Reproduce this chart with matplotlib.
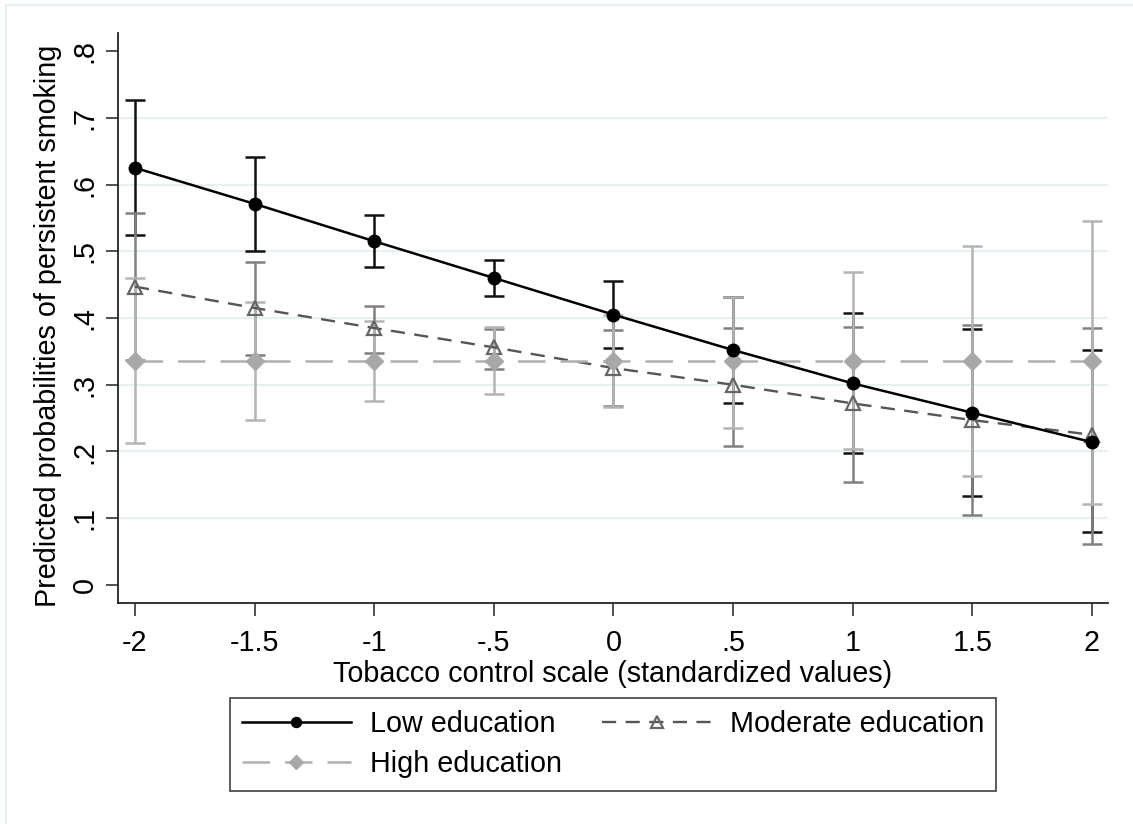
import matplotlib.pyplot as plt
from matplotlib.patches import Rectangle

# ---- data ----
x_vals = [-2, -1.5, -1, -0.5, 0, 0.5, 1, 1.5, 2]
x_labels = ["-2", "-1.5", "-1", "-.5", "0", ".5", "1", "1.5", "2"]
y_ticks = [0, 0.1, 0.2, 0.3, 0.4, 0.5, 0.6, 0.7, 0.8]
y_labels = ["0", ".1", ".2", ".3", ".4", ".5", ".6", ".7", ".8"]

low = [0.625, 0.571, 0.515, 0.460, 0.405, 0.352, 0.302, 0.258, 0.214]
low_lo = [0.524, 0.500, 0.477, 0.433, 0.355, 0.272, 0.198, 0.133, 0.079]
low_hi = [0.727, 0.641, 0.554, 0.487, 0.455, 0.432, 0.408, 0.383, 0.352]

mod = [0.447, 0.415, 0.385, 0.356, 0.325, 0.300, 0.272, 0.247, 0.225]
mod_lo = [0.337, 0.345, 0.347, 0.324, 0.268, 0.208, 0.154, 0.105, 0.062]
mod_hi = [0.557, 0.484, 0.418, 0.384, 0.382, 0.385, 0.386, 0.389, 0.385]

high = [0.336, 0.336, 0.336, 0.336, 0.336, 0.336, 0.336, 0.336, 0.336]
high_lo = [0.213, 0.247, 0.276, 0.286, 0.267, 0.235, 0.203, 0.164, 0.121]
high_hi = [0.460, 0.424, 0.396, 0.386, 0.405, 0.432, 0.469, 0.508, 0.545]

plt.rcParams['font.family'] = ['Liberation Sans', 'DejaVu Sans']
FS = 20.7

fig = plt.figure(figsize=(11.33, 8.24), dpi=100)
ax = fig.add_axes([118 / 1133, (824 - 603) / 824, 990 / 1133, 570 / 824])

# light outer frame like Stata's graph region
fig.patches.append(Rectangle((6 / 1133, -0.1), 2, (824 - 5) / 824 + 0.1,
                             transform=fig.transFigure, fill=False,
                             edgecolor="#e8f0f0", linewidth=1.5))

series = [
    (low, low_lo, low_hi, "#111111", "#000000", "-", "o", "Low education"),
    (mod, mod_lo, mod_hi, "#808080", "#555555", (0, (6, 4)), "^", "Moderate education"),
    (high, high_lo, high_hi, "#b4b4b4", "#b0b0b0", (0, (11, 6)), "D", "High education"),
]

# confidence intervals first
for y, lo, hi, ecol, lcol, ls, mk, lab in series:
    err = [[v - l for v, l in zip(y, lo)], [h - v for v, h in zip(y, hi)]]
    ax.errorbar(x_vals, y, yerr=err, fmt="none", ecolor=ecol,
                elinewidth=1.8, capsize=7, capthick=1.8, zorder=2)

handles = []
for y, lo, hi, ecol, lcol, ls, mk, lab in series:
    if mk == "^":
        h, = ax.plot(x_vals, y, color=lcol, linestyle=ls, linewidth=1.7,
                     marker=mk, markersize=10, markerfacecolor="none",
                     markeredgecolor="#666666", markeredgewidth=1.6, label=lab, zorder=3)
    elif mk == "D":
        h, = ax.plot(x_vals, y, color=lcol, linestyle=ls, linewidth=1.8,
                     marker=mk, markersize=9, markerfacecolor="#a8a8a8",
                     markeredgecolor="#a8a8a8", label=lab, zorder=3)
    else:
        h, = ax.plot(x_vals, y, color=lcol, linestyle=ls, linewidth=1.8,
                     marker=mk, markersize=9, markerfacecolor="#000000",
                     markeredgecolor="#000000", label=lab, zorder=4)
    handles.append(h)

ax.set_xlim(-2.071, 2.067)
ax.set_ylim(-0.027, 0.827)
ax.set_xticks(x_vals)
ax.set_xticklabels(x_labels, fontsize=FS)
ax.set_yticks(y_ticks)
ax.set_yticklabels(y_labels, fontsize=FS, rotation=90, va="center")
ax.tick_params(direction="out", length=9, width=1.2, color="#333333")
ax.tick_params(axis="x", pad=10)
ax.tick_params(axis="y", pad=5)

for yy in y_ticks[1:-1]:
    ax.axhline(yy, color="#e6f0f2", linewidth=1.4, zorder=0)

for s in ["top", "right"]:
    ax.spines[s].set_visible(False)
for s in ["left", "bottom"]:
    ax.spines[s].set_linewidth(1.3)
    ax.spines[s].set_color("#222222")

ax.set_xlabel("Tobacco control scale (standardized values)", fontsize=FS, labelpad=2)
ax.set_ylabel("Predicted probabilities of persistent smoking", fontsize=FS, labelpad=6, y=0.486)

leg = fig.legend([handles[0], handles[2], handles[1]],
                 ["Low education", "High education", "Moderate education"],
                 ncol=2, loc="upper center", bbox_to_anchor=(613 / 1133, 1 - 698 / 824),
                 borderaxespad=0, fontsize=FS, frameon=True, fancybox=False,
                 handlelength=3.8, handletextpad=0.65, columnspacing=1.4,
                 borderpad=0.42, labelspacing=0.43, markerscale=0.8)
leg.get_frame().set_edgecolor("#222222")
leg.get_frame().set_linewidth(1.3)

fig.savefig("out.png", dpi=100)
